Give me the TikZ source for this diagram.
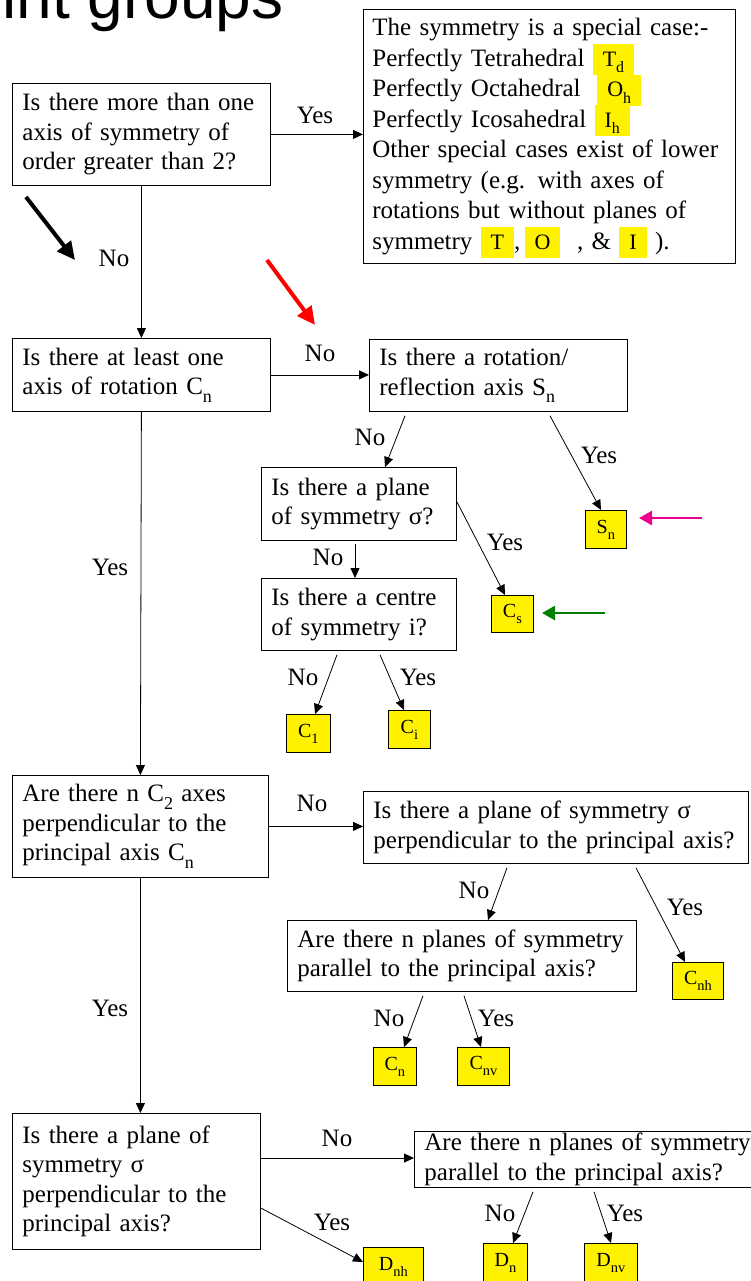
\documentclass[tikz,border=0pt]{standalone}
\usepackage{fontspec}
\setmainfont{Liberation Serif}
\newfontfamily\titlefont{Liberation Sans}
\usetikzlibrary{arrows.meta}

\newcommand\qfont{\fontsize{25bp}{29.5bp}\selectfont}
\newcommand\lowsub[1]{\raisebox{-.3em}{\scalebox{.72}{#1}}}
\newcommand\hl[2]{\smash{\setlength\fboxsep{0pt}\colorbox{yellow}{\hspace{10bp}\rule[-9bp]{0pt}{31bp}\fontsize{22bp}{22bp}\selectfont #1\lowsub{#2}\hspace{10bp}}}}

\begin{document}
\begin{tikzpicture}[x=1bp, y=-1bp,
  qbox/.style={draw, line width=0.8bp, anchor=north west, align=left, inner xsep=10bp, inner ysep=0pt, font=\qfont},
  leaf/.style={draw, fill=yellow, line width=0.8bp, anchor=north west, inner sep=0pt, font=\fontsize{20bp}{20bp}\selectfont},
  lbl/.style={font=\qfont, inner sep=0pt},
  arr/.style={-{Triangle[length=10bp,width=9bp]}, line width=0.8bp},
  hint/.style={-{Triangle[length=18bp,width=17bp]}, line width=4bp}
]
\useasboundingbox (0,0) rectangle (751,1281);
\clip (0,0) rectangle (751,1281);

% heading, cut off by the page
\node[font=\titlefont\fontsize{64bp}{64bp}\selectfont, anchor=base west, inner sep=0pt] (title) at (-76,18) {Point groups};

% questions
\node[qbox, text width=238bp, minimum height=102bp] (qA) at (12,83) {Is there more than one\\axis of symmetry of\\order greater than 2?};
\node[qbox, text width=354bp, minimum height=254bp, inner xsep=9bp, font=\fontsize{25bp}{30.5bp}\selectfont] (qB) at (363,9)
  {The symmetry is a special case:-\\
   Perfectly Tetrahedral \hl{T}{d}\\
   Perfectly Octahedral \ \hl{O}{h}\\
   Perfectly Icosahedral \hl{I}{h}\\
   Other special cases exist of lower\\
   symmetry (e.g. with axes of\\
   rotations but without planes of\\
   symmetry \hl{T}{},\,\hl{O}{} \ , \& \hl{I}{} ).};
\node[qbox, text width=238bp, minimum height=73bp] (qC) at (12,338) {Is there at least one\\axis of rotation C\lowsub{n}};
\node[qbox, text width=238bp, minimum height=72bp] (qD) at (369,339) {Is there a rotation/\\reflection axis S\lowsub{n}};
\node[qbox, text width=175bp, minimum height=73bp] (qE) at (261,467) {Is there a plane\\of symmetry σ?};
\node[qbox, text width=175bp, minimum height=72bp] (qF) at (261,578) {Is there a centre\\of symmetry i?};
\node[qbox, text width=236bp, minimum height=102bp] (qG) at (12,775) {Are there n C\lowsub{2} axes\\perpendicular to the\\principal axis C\lowsub{n}};
\node[qbox, text width=365bp, minimum height=72bp] (qH) at (363,791) {Is there a plane of symmetry σ\\perpendicular to the principal axis?};
\node[qbox, text width=329bp, minimum height=71bp] (qI) at (287,920) {Are there n planes of symmetry\\parallel to the principal axis?};
\node[qbox, text width=228bp, minimum height=136bp] (qJ) at (12,1113) {Is there a plane of\\symmetry σ\\perpendicular to the\\principal axis?};
\node[qbox, text width=340bp, minimum height=56bp] (qK) at (414,1131) {Are there n planes of symmetry\\parallel to the principal axis?};

% point groups
\node[leaf, minimum width=41bp, minimum height=38bp] (qSn) at (585,510) {S\lowsub{n}};
\node[leaf, minimum width=42bp, minimum height=37bp] (qCs) at (491,595) {C\lowsub{s}};
\node[leaf, minimum width=44bp, minimum height=38bp] (qC1) at (286,714) {C\lowsub{1}};
\node[leaf, minimum width=42bp, minimum height=38bp] (qCi) at (388,710) {C\lowsub{i}};
\node[leaf, minimum width=51bp, minimum height=37bp] (qCnh) at (672,962) {C\lowsub{nh}};
\node[leaf, minimum width=43bp, minimum height=38bp] (qCn) at (373,1047) {C\lowsub{n}};
\node[leaf, minimum width=52bp, minimum height=38bp] (qCnv) at (457,1047) {C\lowsub{nv}};
\node[leaf, minimum width=60bp, minimum height=40bp] (qDnh) at (363,1247) {D\lowsub{nh}};
\node[leaf, minimum width=44bp, minimum height=40bp] (qDn) at (483,1243) {D\lowsub{n}};
\node[leaf, minimum width=53bp, minimum height=40bp] (qDnv) at (584,1243) {D\lowsub{nv}};

% connectors
\draw[arr] (qA.east) -- (qA.east -| qB.west);
\draw[arr] (qA.south) -- (qC.north);
\draw[arr] (qC.east) -- (qC.east -| qD.west);
\draw[arr] ([shift={(36,4)}]qD.south west) -- ([shift={(124,0)}]qE.north west);
\draw[arr] ([shift={(181,4)}]qD.south west) -- ([shift={(16,0)}]qSn.north west);
\draw[arr] ([shift={(94,3)}]qE.south west) -- ([shift={(94,0)}]qF.north west);
\draw[arr] ([shift={(196,35)}]qE.north west) -- ([shift={(14,0)}]qCs.north west);
\draw[arr] ([shift={(76,4)}]qF.south west) -- ([shift={(29,0)}]qC1.north west);
\draw[arr] ([shift={(119,4)}]qF.south west) -- ([shift={(16,0)}]qCi.north west);
\draw[arr] (qC.south) -- (qG.north);
\draw[arr] (qG.east) -- (qG.east -| qH.west);
\draw[arr] ([shift={(144,4)}]qH.south west) -- ([shift={(201,0)}]qI.north west);
\draw[arr] ([shift={(273,4)}]qH.south west) -- ([shift={(13,0)}]qCnh.north west);
\draw[arr] ([shift={(136,4)}]qI.south west) -- ([shift={(31,0)}]qCn.north west);
\draw[arr] ([shift={(177,4)}]qI.south west) -- ([shift={(24,0)}]qCnv.north west);
\draw[arr] (qG.south) -- (qG.south |- qJ.north);
\draw[arr] ([shift={(0,45)}]qJ.north east) coordinate (jk) -- (jk -| qK.west);
\draw[arr] ([shift={(0,95)}]qJ.north east) -- ([shift={(0,15)}]qDnh.north west);
\draw[arr] ([shift={(119,4)}]qK.south west) -- ([shift={(30,0)}]qDn.north west);
\draw[arr] ([shift={(180,4)}]qK.south west) -- ([shift={(27,0)}]qDnv.north west);

% answers on the connectors
\node[lbl] (yAB) at (315,115) {Yes};
\node[lbl] (nAC) at (114,258) {No};
\node[lbl] (nCD) at (320,353) {No};
\node[lbl] (nDE) at (370,437) {No};
\node[lbl] (yDS) at (599,455) {Yes};
\node[lbl] (nEF) at (328,557) {No};
\node[lbl] (yEC) at (505,542) {Yes};
\node[lbl] (yCG) at (110,567) {Yes};
\node[lbl] (nF1) at (303,677) {No};
\node[lbl] (yFi) at (418,677) {Yes};
\node[lbl] (nGH) at (312,803) {No};
\node[lbl] (nHI) at (474,890) {No};
\node[lbl] (yHC) at (685,907) {Yes};
\node[lbl] (yGJ) at (110,1008) {Yes};
\node[lbl] (nIC) at (389,1018) {No};
\node[lbl] (yIC) at (496,1018) {Yes};
\node[lbl] (nJK) at (337,1138) {No};
\node[lbl] (yJD) at (332,1222) {Yes};
\node[lbl] (nKD) at (500,1213) {No};
\node[lbl] (yKD) at (625,1213) {Yes};

% pointers
\coordinate (blkS) at (26,197); \coordinate (blkE) at (75,260);
\coordinate (redS) at (267,260); \coordinate (redE) at (315,325);
\coordinate (magS) at (702,518); \coordinate (magE) at (639,518);
\coordinate (grnS) at (605,613); \coordinate (grnE) at (542,613);
\draw[hint] (blkS) -- (blkE);
\draw[hint, red] (redS) -- (redE);
\draw[hint, magenta, line width=2.5bp, -{Triangle[length=13bp,width=14bp]}] (magS) -- (magE);
\draw[hint, green!50!black, line width=2.5bp, -{Triangle[length=13bp,width=14bp]}] (grnS) -- (grnE);
\end{tikzpicture}
\end{document}
